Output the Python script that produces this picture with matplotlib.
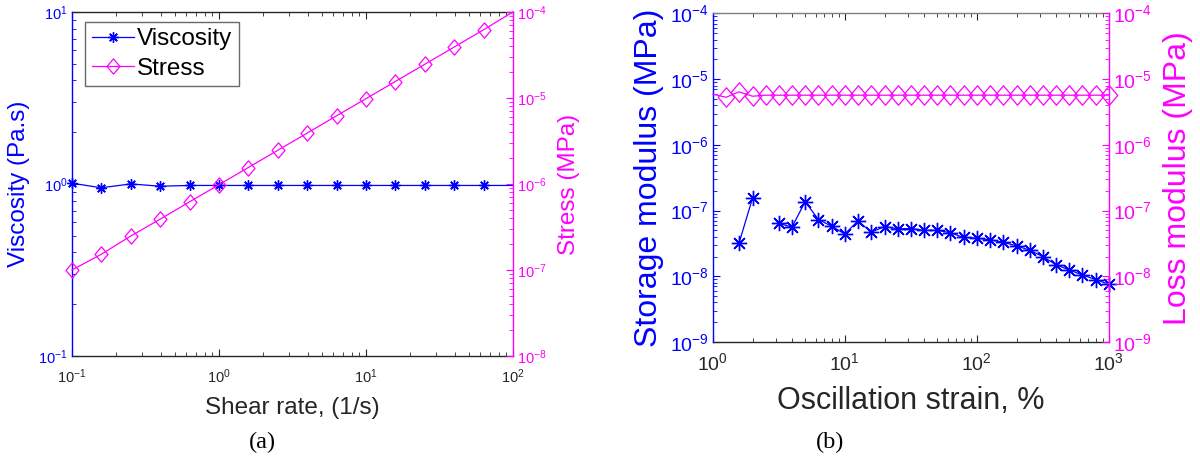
import numpy as np
import matplotlib
matplotlib.use('Agg')
import matplotlib.pyplot as plt
from matplotlib.ticker import LogLocator, LogFormatterSciNotation, NullFormatter
from matplotlib.lines import Line2D
from matplotlib.path import Path

plt.rcParams['font.family'] = ['Liberation Sans', 'DejaVu Sans']
plt.rcParams['mathtext.fontset'] = 'custom'
plt.rcParams['mathtext.rm'] = 'Liberation Sans'
plt.rcParams['mathtext.it'] = 'Liberation Sans:italic'
plt.rcParams['mathtext.bf'] = 'Liberation Sans:bold'
plt.rcParams['mathtext.default'] = 'regular'
plt.rcParams['axes.unicode_minus'] = False

BLUE = '#0000FF'
MAG = '#FF00FF'
DARK = '#262626'
ASTER = (8, 2, 0)  # eight-armed asterisk marker
DIAMOND = Path([(0, 1), (0.85, 0), (0, -1), (-0.85, 0), (0, 1)],
               [Path.MOVETO, Path.LINETO, Path.LINETO, Path.LINETO, Path.CLOSEPOLY])

# ---- (a) steady shear ----
shear_rate = [0.1, 0.158, 0.251, 0.398, 0.631, 1.0, 1.58, 2.51, 3.98, 6.31,
              10.0, 15.8, 25.1, 39.8, 63.1, 100.0]
viscosity = [1.01, 0.95, 1.00, 0.97, 0.98, 0.98, 0.98, 0.98, 0.98, 0.98,
             0.98, 0.98, 0.98, 0.98, 0.98, 0.98]
stress = [1.0e-7, 1.52e-7, 2.48e-7, 3.9e-7, 6.2e-7, 9.8e-7, 1.55e-6, 2.46e-6,
          3.9e-6, 6.2e-6, 9.8e-6, 1.55e-5, 2.46e-5, 3.9e-5, 6.2e-5, 1.0e-4]

# ---- (b) amplitude sweep ----
strain = [1.0, 1.26, 1.58, 2.0, 2.51, 3.16, 3.98, 5.01, 6.31, 7.94,
          10.0, 12.6, 15.8, 20.0, 25.1, 31.6, 39.8, 50.1, 63.1, 79.4,
          100.0, 126.0, 158.0, 200.0, 251.0, 316.0, 398.0, 501.0, 631.0, 794.0,
          1000.0]
storage_mod = [np.nan, np.nan, 3.2e-8, 1.55e-7, np.nan, 6.4e-8, 5.6e-8, 1.37e-7, 7.3e-8, 5.8e-8,
               4.4e-8, 7.0e-8, 4.7e-8, 5.7e-8, 5.3e-8, 5.3e-8, 5.0e-8, 5.0e-8, 4.6e-8, 3.9e-8,
               3.8e-8, 3.6e-8, 3.3e-8, 2.9e-8, 2.5e-8, 2.0e-8, 1.5e-8, 1.25e-8, 1.05e-8, 8.9e-9,
               7.6e-9]
loss_mod = [5.9e-6, 5.3e-6, 6.4e-6, 5.5e-6, 5.7e-6, 5.7e-6, 5.7e-6, 5.7e-6, 5.7e-6, 5.7e-6,
            5.7e-6, 5.7e-6, 5.7e-6, 5.7e-6, 5.7e-6, 5.7e-6, 5.7e-6, 5.7e-6, 5.7e-6, 5.7e-6,
            5.7e-6, 5.7e-6, 5.7e-6, 5.7e-6, 5.7e-6, 5.7e-6, 5.7e-6, 5.7e-6, 5.7e-6, 5.7e-6,
            5.7e-6]

fig = plt.figure(figsize=(12, 4.57), dpi=100)


def log_axis(axis):
    axis.set_major_locator(LogLocator(base=10, numticks=20))
    axis.set_minor_locator(LogLocator(base=10, subs=np.arange(2, 10), numticks=20))
    axis.set_minor_formatter(NullFormatter())
    axis.set_major_formatter(LogFormatterSciNotation())


def style_pair(ax, ax2, tick_fs, xpad, major_len, minor_len):
    ax.tick_params(axis='x', which='both', direction='in', top=True, colors=DARK,
                   labelsize=tick_fs, pad=xpad)
    ax.tick_params(axis='x', which='major', length=major_len)
    ax.tick_params(axis='x', which='minor', length=minor_len)
    ax.tick_params(axis='y', which='both', direction='in', colors=BLUE, labelsize=tick_fs, pad=3)
    ax.tick_params(axis='y', which='major', length=major_len)
    ax.tick_params(axis='y', which='minor', length=minor_len)
    ax2.tick_params(axis='y', which='both', direction='in', colors=MAG, labelsize=tick_fs, pad=3)
    ax2.tick_params(axis='y', which='major', length=major_len)
    ax2.tick_params(axis='y', which='minor', length=minor_len)
    ax.spines['left'].set_color(BLUE)
    ax.spines['right'].set_visible(False)
    ax2.spines['left'].set_visible(False)
    ax2.spines['right'].set_color(MAG)
    ax2.spines['top'].set_visible(False)
    ax2.spines['bottom'].set_visible(False)
    ax.spines['top'].set_color(DARK)
    ax.spines['bottom'].set_color(DARK)
    for sp in list(ax.spines.values()) + list(ax2.spines.values()):
        sp.set_linewidth(1.0)


# ---------------- panel (a) ----------------
axa = fig.add_axes([0.060, 0.221, 0.3675, 0.753])
axa2 = axa.twinx()
axa.set_xscale('log'); axa.set_yscale('log'); axa2.set_yscale('log')
axa.set_xlim(0.1, 100); axa.set_ylim(0.1, 10); axa2.set_ylim(1e-8, 1e-4)
log_axis(axa.xaxis); log_axis(axa.yaxis); log_axis(axa2.yaxis)

n_a = len(shear_rate)
axa.plot(shear_rate, viscosity, color=BLUE, lw=0.9, marker=ASTER, ms=7.5, mew=1.0,
         markevery=list(range(n_a - 1)), clip_on=False, zorder=3)
axa2.plot(shear_rate, stress, color=MAG, lw=0.9, marker=DIAMOND, ms=11, mew=0.9, mfc='none',
          markevery=list(range(n_a - 1)), clip_on=False, zorder=3)

style_pair(axa, axa2, 10.5, 8, 5, 3)
axa.set_xlabel('Shear rate, (1/s)', fontsize=17.5, color=DARK, labelpad=8)
axa.set_ylabel('Viscosity (Pa.s)', fontsize=17.5, color=BLUE, labelpad=6)
axa2.set_ylabel('Stress (MPa)', fontsize=17.5, color=MAG, labelpad=8)

handles = [Line2D([], [], color=BLUE, lw=0.9, marker=ASTER, ms=7.5, mew=1.0),
           Line2D([], [], color=MAG, lw=0.9, marker=DIAMOND, ms=11, mew=0.9, mfc='none')]
leg = axa2.legend(handles, ['Viscosity', 'Stress'], loc='upper left',
                  bbox_to_anchor=(0.029, 0.972), fontsize=17.5, frameon=True,
                  fancybox=False, edgecolor='#444444', handlelength=1.75,
                  handletextpad=0.12, borderpad=0.28, labelspacing=0.3,
                  borderaxespad=0.0)
leg.get_frame().set_linewidth(1.0)

fig.text(0.2185, 0.032, '(a)', fontsize=17.5, family='Liberation Serif', ha='center',
         va='center', color='black')

# ---------------- panel (b) ----------------
axb = fig.add_axes([0.594, 0.2516, 0.330, 0.719])
axb2 = axb.twinx()
axb.set_xscale('log'); axb.set_yscale('log'); axb2.set_yscale('log')
axb.set_xlim(1, 1000); axb.set_ylim(1e-9, 1e-4); axb2.set_ylim(1e-9, 1e-4)
log_axis(axb.xaxis); log_axis(axb.yaxis); log_axis(axb2.yaxis)

n_b = len(strain)
axb.plot(strain, storage_mod, color=BLUE, lw=0.9, marker=ASTER, ms=11, mew=1.0,
         clip_on=False, zorder=3)
axb2.plot(strain, loss_mod, color=MAG, lw=0.9, marker=DIAMOND, ms=14, mew=0.9, mfc='none',
          markevery=list(range(1, n_b)), clip_on=False, zorder=3)

style_pair(axb, axb2, 14, 7, 5, 3)
axb.spines['top'].set_color('#808080')
axb.set_xlabel('Oscillation strain, %', fontsize=22, color=DARK, labelpad=9)
axb.set_ylabel('Storage modulus (MPa)', fontsize=23, color=BLUE, labelpad=4)
axb2.set_ylabel('Loss modulus (MPa)', fontsize=23, color=MAG, labelpad=8)

fig.text(0.6915, 0.032, '(b)', fontsize=17.5, family='Liberation Serif', ha='center',
         va='center', color='black')

fig.savefig('out.png', dpi=100)
